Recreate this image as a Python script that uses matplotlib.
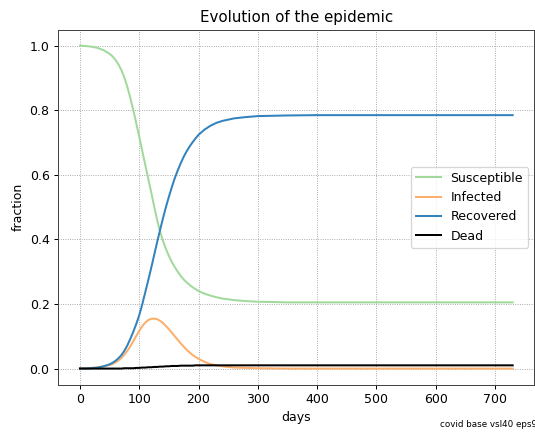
import numpy as np
import matplotlib
matplotlib.use('Agg')
import matplotlib.pyplot as plt

# values
days = [0, 10, 20, 30, 40, 50, 55, 60, 65, 70, 75, 80, 85, 90, 95, 100,
        105, 110, 115, 120, 125, 130, 135, 140, 145, 150, 155, 160, 165,
        170, 175, 180, 185, 190, 195, 200, 210, 220, 230, 240, 260, 280,
        300, 350, 400, 500, 600, 730]
susceptible = [1.000, 0.999, 0.997, 0.993, 0.986, 0.975, 0.967, 0.956,
               0.942, 0.924, 0.901, 0.872, 0.838, 0.800, 0.760, 0.718,
               0.675, 0.632, 0.590, 0.548, 0.504, 0.462, 0.425, 0.396,
               0.371, 0.349, 0.330, 0.314, 0.300, 0.287, 0.276, 0.267,
               0.259, 0.252, 0.246, 0.240, 0.232, 0.226, 0.221, 0.217,
               0.212, 0.209, 0.207, 0.205, 0.205, 0.205, 0.205, 0.205]
infected = [0.000, 0.001, 0.002, 0.004, 0.007, 0.011, 0.014, 0.019, 0.025,
            0.033, 0.043, 0.055, 0.069, 0.085, 0.101, 0.117, 0.131, 0.142,
            0.150, 0.154, 0.155, 0.153, 0.148, 0.141, 0.132, 0.122, 0.111,
            0.100, 0.089, 0.078, 0.068, 0.058, 0.050, 0.042, 0.036, 0.030,
            0.021, 0.014, 0.010, 0.007, 0.003, 0.002, 0.001, 0.000, 0.000,
            0.000, 0.000, 0.000]
recovered = [0.000, 0.000, 0.001, 0.003, 0.007, 0.013, 0.018, 0.024, 0.032,
             0.042, 0.055, 0.072, 0.092, 0.114, 0.138, 0.165, 0.198, 0.235,
             0.272, 0.310, 0.350, 0.390, 0.428, 0.465, 0.500, 0.532, 0.562,
             0.590, 0.614, 0.636, 0.656, 0.673, 0.688, 0.701, 0.713, 0.724,
             0.740, 0.752, 0.761, 0.767, 0.775, 0.779, 0.782, 0.784, 0.785,
             0.785, 0.785, 0.785]
dead = [0.000, 0.000, 0.000, 0.000, 0.000, 0.000, 0.000, 0.000, 0.000,
        0.000, 0.001, 0.001, 0.001, 0.001, 0.002, 0.002, 0.003, 0.003,
        0.004, 0.004, 0.005, 0.005, 0.006, 0.006, 0.007, 0.007, 0.008,
        0.008, 0.008, 0.009, 0.009, 0.009, 0.009, 0.009, 0.010, 0.010,
        0.010, 0.010, 0.010, 0.010, 0.010, 0.010, 0.010, 0.010, 0.010,
        0.010, 0.010, 0.010]

series = [('Susceptible', susceptible, '#a1d99b'),
          ('Infected', infected, '#fdae6b'),
          ('Recovered', recovered, '#3182bd'),
          ('Dead', dead, 'black')]

fig = plt.figure(figsize=(535 / 90, 432 / 90), dpi=90)
ax = fig.add_axes([0.109, 0.1095, 0.8897, 0.822])

for name, vals, c in series:
    ax.plot(days, vals, label=name, c=c, linewidth=1.6)

ax.grid(True, linestyle=':', color='#999999', linewidth=0.7)
ax.set_axisbelow(True)
ax.set_title('Evolution of the epidemic', fontsize=12)
ax.set_xlabel('days')
ax.set_ylabel('fraction')
ax.set_xticks(np.arange(0, 701, 100))
ax.set_yticks(np.arange(0, 1.01, 0.2))
for s in ax.spines.values():
    s.set_color('#444444')
ax.legend(loc='center right')

fig.text(0.822, 0.012, 'covid base vsl40 eps99', fontsize=7)

fig.savefig('out.png', dpi=90)
